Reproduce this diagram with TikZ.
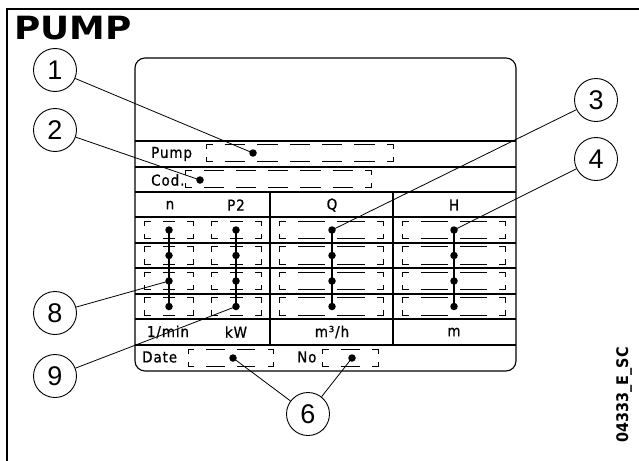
\documentclass[tikz,border=0pt]{standalone}
\usepackage{fontspec}
\setmainfont{Liberation Sans}
\newfontfamily\tabfont[LetterSpace=6,FakeBold=0.8]{DejaVu Sans Condensed}
\newfontfamily\codefont{DejaVu Sans Condensed}
\newfontfamily\headfont{DejaVu Sans}
\usetikzlibrary{calc,positioning}

% dashed entry field: name, x, y, width
\newcommand\fieldbox[4]{%
  \node[field, minimum width=#4pt] (#1) at (#2,#3) {};
  \pgfmathsetmacro\fdcount{max(1,round((#4-24)/32))}
  \pgfmathsetlengthmacro\fdlen{(#4-12-(\fdcount+1)*12)/\fdcount}
  \draw[fieldline] ([xshift=6pt]#1.north west) -| ([yshift=-5pt]#1.north west)
    ([xshift=-6pt]#1.north east) -| ([yshift=-5pt]#1.north east)
    ([xshift=6pt]#1.south west) -| ([yshift=5pt]#1.south west)
    ([xshift=-6pt]#1.south east) -| ([yshift=5pt]#1.south east);
  \draw[fieldline, dash pattern=on \fdlen off 12pt]
    ([xshift=18pt]#1.north west) -- ([xshift=-18pt]#1.north east)
    ([xshift=18pt]#1.south west) -- ([xshift=-18pt]#1.south east);
}

\begin{document}
\begin{tikzpicture}[
    x=1pt, y=-1pt,
    frame/.style={line width=2.4pt},
    panel/.style={line width=1.1pt},
    field/.style={minimum height=17pt, inner sep=0pt},
    fieldline/.style={line width=0.9pt},
    dot/.style={circle, fill, inner sep=0pt, minimum size=7.5pt},
    callout/.style={circle, draw, line width=0.9pt, minimum size=43pt,
      inner sep=0pt, font=\fontsize{27}{27}\selectfont},
    lbl/.style={font=\tabfont\fontsize{15}{15}\selectfont, inner sep=0pt},
    lead/.style={line width=0.8pt}
  ]
    \useasboundingbox (0,0) rectangle (639,460);
    \draw[frame] (7,462) |- (641,9);
    \node[anchor=base west, inner sep=0pt, xscale=1.12,
      font=\headfont\bfseries\fontsize{32}{32}\selectfont] (title) at (14,40) {PUMP};

    % name plate
    \draw[panel, rounded corners=10pt] (135,58) rectangle (516,371);
    \foreach \y in {141,167,192,217,243,268,294,319,345}
      \draw[panel] (135,\y) -- (516,\y);
    \foreach \x in {270,393}
      \draw[panel] (\x,192) -- (\x,345);

    \node[lbl, anchor=west] (pump) at (151,154) {Pump};
    \fieldbox{fpump}{300}{153}{186}
    \node[dot] (dpump) at (253,153) {};
    \node[lbl, anchor=west] (cod) at (151,180) {Cod.};
    \fieldbox{fcod}{278.5}{179}{185}
    \node[dot] (dcod) at (200,180) {};

    \node[lbl] (hn) at (170,205) {n};
    \node[lbl] (hp) at (236,205) {P2};
    \node[lbl] (hq) at (332,205) {Q};
    \node[lbl] (hh) at (454,205) {H};

    \foreach \r/\y in {1/230,2/255.5,3/281,4/306.5} {
      \fieldbox{fn\r}{169}{\y}{48}
      \fieldbox{fp\r}{236.5}{\y}{49}
      \fieldbox{fq\r}{331.5}{\y}{103}
      \fieldbox{fh\r}{454}{\y}{102}
      \node[dot] (dn\r) at (169,\y) {};
      \node[dot] (dp\r) at (236,\y) {};
      \node[dot] (dq\r) at (332,\y) {};
      \node[dot] (dh\r) at (454,\y) {};
    }
    \foreach \c in {n,p,q,h}
      \draw[panel] (d\c1.center) -- (d\c4.center);

    \node[lbl] (un) at (168,332) {1/min};
    \node[lbl] (up) at (236,332) {kW};
    \node[lbl] (uq) at (332,332) {m³/h};
    \node[lbl] (uh) at (454,332) {m};

    \node[lbl, anchor=west] (date) at (142,357) {Date};
    \fieldbox{fdate}{231}{358}{85}
    \node[dot] (ddate) at (233,358) {};
    \node[lbl, anchor=west] (no) at (297,357) {No};
    \fieldbox{fno}{350.5}{358}{55}
    \node[dot] (dno) at (352,358) {};

    % callouts
    \node[callout] (c1) at (55,70) {1};
    \node[callout] (c2) at (55,130) {2};
    \node[callout] (c3) at (596,100) {3};
    \node[callout] (c4) at (596,159) {4};
    \node[callout] (c8) at (55,313) {8};
    \node[callout] (c9) at (55,376) {9};
    \node[callout] (c6) at (308,414) {6};

    \draw[lead] (c1) -- (dpump.center);
    \draw[lead] (c2) -- (dcod.center);
    \draw[lead] (c3) -- (dq1.center);
    \draw[lead] (c4) -- (dh1.center);
    \draw[lead] (c8) -- (dn3.center);
    \draw[lead] (c9) -- (dp4.center);
    \draw[lead] (c6) -- (ddate.center);
    \draw[lead] (c6) -- (dno.center);

    \node[rotate=90, inner sep=0pt,
      font=\codefont\bfseries\fontsize{16}{16}\selectfont] (code) at (624,395) {04333\_E\_SC};
  \end{tikzpicture}
\end{document}
